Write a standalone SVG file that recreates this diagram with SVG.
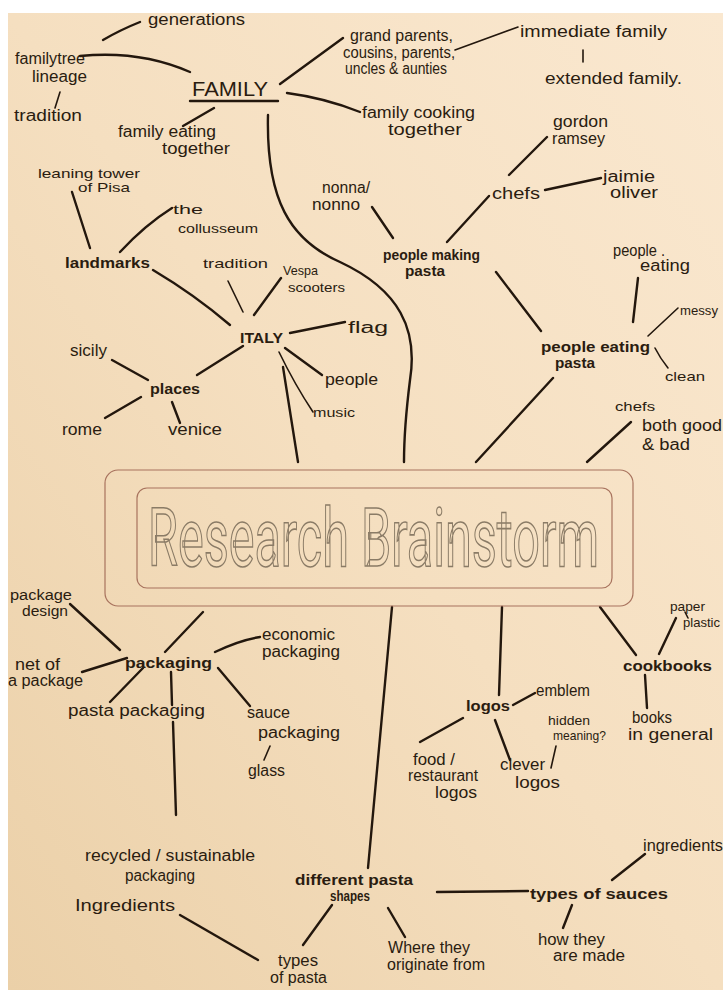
<svg xmlns="http://www.w3.org/2000/svg" width="726" height="990" viewBox="0 0 726 990">
  <defs>
    <linearGradient id="paper" x1="1" y1="0" x2="0" y2="1">
      <stop offset="0" stop-color="#fae8d0"/>
      <stop offset="0.5" stop-color="#f5dfc0"/>
      <stop offset="1" stop-color="#ebd0a8"/>
    </linearGradient>
    <style>
      .ln { fill: none; stroke: #23170d; stroke-width: 2.4; stroke-linecap: round; stroke-linejoin: round; }
      .thin { stroke-width: 1.6; }
      text { font-family: "Liberation Sans", "DejaVu Sans", sans-serif; fill: #2a1c10; font-size: 16px; }
      .s { font-size: 13px; }
      .m { font-size: 14px; }
      .b { font-weight: bold; font-size: 15px; }
      .cap { font-size: 20px; }
      .title { font-family: Roboto, "DejaVu Sans", sans-serif; font-size: 45px; fill: none; stroke: #8a7b66; stroke-width: 1.3; vector-effect: non-scaling-stroke; }
      .frame { fill: none; stroke: #a8735e; stroke-width: 1.2; }
    </style>
  </defs>

  <!-- sheet of paper -->
  <rect width="726" height="990" fill="#ffffff"/>
  <rect x="8" y="13" width="715" height="977" fill="url(#paper)"/>

  <!-- connectors -->
  <g id="connectors">
    <!-- family branch -->
    <path class="ln" d="M103,40 Q120,30 140,22"/>
    <path class="ln" d="M80,56 Q140,50 190,72"/>
    <path class="ln thin" d="M60,92 L55,108"/>
    <path class="ln" d="M190,101 L278,101"/>
    <path class="ln" d="M280,84 L343,38"/>
    <path class="ln thin" d="M455,50 L518,27"/>
    <path class="ln thin" d="M583,50 L583,62"/>
    <path class="ln" d="M287,93 Q325,98 360,112"/>
    <path class="ln" d="M214,108 L183,126"/>
    <path class="ln" d="M268,115 C266,200 290,240 340,262 C400,290 418,330 410,380 C405,420 404,440 404,462"/>
    <!-- people making / eating pasta -->
    <path class="ln" d="M372,207 L393,238"/>
    <path class="ln" d="M447,242 L489,196"/>
    <path class="ln" d="M509,175 L547,137"/>
    <path class="ln" d="M545,190 L601,178"/>
    <path class="ln" d="M496,272 L541,331"/>
    <path class="ln" d="M633,322 L638,278"/>
    <path class="ln thin" d="M648,336 L678,308"/>
    <path class="ln thin" d="M655,348 Q660,358 668,368"/>
    <path class="ln" d="M553,378 L476,462"/>
    <path class="ln" d="M631,422 L587,462"/>
    <!-- italy branch -->
    <path class="ln" d="M72,192 L90,248"/>
    <path class="ln" d="M120,252 Q145,225 172,208"/>
    <path class="ln" d="M153,270 Q195,295 230,325"/>
    <path class="ln thin" d="M228,281 L243,312"/>
    <path class="ln" d="M254,315 L281,278"/>
    <path class="ln" d="M290,333 L345,322"/>
    <path class="ln" d="M285,348 L322,375"/>
    <path class="ln thin" d="M279,352 Q295,385 313,412"/>
    <path class="ln" d="M243,346 L197,375"/>
    <path class="ln" d="M283,367 L298,462"/>
    <path class="ln" d="M112,360 L148,380"/>
    <path class="ln" d="M141,397 L105,418"/>
    <path class="ln" d="M172,402 L180,423"/>
    <!-- packaging branch -->
    <path class="ln" d="M203,612 L165,652"/>
    <path class="ln" d="M70,604 L120,650"/>
    <path class="ln" d="M215,652 Q240,640 260,637"/>
    <path class="ln" d="M82,672 L127,658"/>
    <path class="ln" d="M143,668 L110,702"/>
    <path class="ln" d="M171,672 L172,705"/>
    <path class="ln" d="M218,668 L250,706"/>
    <path class="ln thin" d="M270,746 L264,760"/>
    <path class="ln" d="M173,722 L176,815"/>
    <!-- pasta shapes branch -->
    <path class="ln" d="M392,607 L368,868"/>
    <path class="ln" d="M437,892 L528,891"/>
    <path class="ln" d="M612,880 L645,854"/>
    <path class="ln" d="M572,905 L563,928"/>
    <path class="ln" d="M388,908 L405,937"/>
    <path class="ln" d="M332,905 L303,945"/>
    <path class="ln" d="M180,915 L258,960"/>
    <!-- logos branch -->
    <path class="ln" d="M502,607 L499,695"/>
    <path class="ln" d="M513,705 L535,693"/>
    <path class="ln" d="M463,718 L420,742"/>
    <path class="ln" d="M495,720 L510,760"/>
    <path class="ln thin" d="M556,746 L551,768"/>
    <!-- cookbooks branch -->
    <path class="ln" d="M600,607 L636,655"/>
    <path class="ln" d="M659,654 L676,618"/>
    <path class="ln thin" d="M685,612 L688,618"/>
    <path class="ln" d="M645,675 L647,708"/>
  </g>

  <!-- centre title: tall condensed outline lettering -->
  <g id="research-brainstorm">
    <rect class="frame" x="105" y="470" width="528" height="136" rx="13"/>
    <rect class="frame" x="137" y="488" width="475" height="100" rx="10" stroke="#8d6a56"/>
    <text class="title" transform="translate(148,566) scale(1,1.82)" x="0" y="0" textLength="451" lengthAdjust="spacingAndGlyphs">Research Brainstorm</text>
  </g>

  <!-- family -->
  <g id="family">
    <text class="cap" x="192" y="96" textLength="76" lengthAdjust="spacingAndGlyphs">FAMILY</text>
  </g>
  <g id="generations"><text x="148" y="25" textLength="97" lengthAdjust="spacingAndGlyphs">generations</text></g>
  <g id="family-tree">
    <text x="15" y="64" textLength="70" lengthAdjust="spacingAndGlyphs">familytree</text>
    <text x="32" y="82" textLength="55" lengthAdjust="spacingAndGlyphs">lineage</text>
  </g>
  <g id="tradition-family"><text x="14" y="121" textLength="68" lengthAdjust="spacingAndGlyphs">tradition</text></g>
  <g id="relatives">
    <text x="350" y="41" textLength="103" lengthAdjust="spacingAndGlyphs">grand parents,</text>
    <text x="343" y="58" textLength="112" lengthAdjust="spacingAndGlyphs">cousins, parents,</text>
    <text x="345" y="74" textLength="102" lengthAdjust="spacingAndGlyphs">uncles &amp; aunties</text>
  </g>
  <g id="immediate-family"><text x="520" y="37" textLength="147" lengthAdjust="spacingAndGlyphs">immediate family</text></g>
  <g id="extended-family"><text x="545" y="84" textLength="137" lengthAdjust="spacingAndGlyphs">extended family.</text></g>
  <g id="family-cooking">
    <text x="362" y="118" textLength="113" lengthAdjust="spacingAndGlyphs">family cooking</text>
    <text x="388" y="135" textLength="74" lengthAdjust="spacingAndGlyphs">together</text>
  </g>
  <g id="family-eating">
    <text x="118" y="137" textLength="98" lengthAdjust="spacingAndGlyphs">family eating</text>
    <text x="162" y="154" textLength="68" lengthAdjust="spacingAndGlyphs">together</text>
  </g>

  <!-- people making / eating pasta -->
  <g id="nonna">
    <text x="322" y="193" textLength="48" lengthAdjust="spacingAndGlyphs">nonna/</text>
    <text x="312" y="210" textLength="48" lengthAdjust="spacingAndGlyphs">nonno</text>
  </g>
  <g id="people-making-pasta">
    <text class="b" x="383" y="260" textLength="97" lengthAdjust="spacingAndGlyphs">people making</text>
    <text class="b" x="405" y="276" textLength="40" lengthAdjust="spacingAndGlyphs">pasta</text>
  </g>
  <g id="chefs"><text x="492" y="199" textLength="48" lengthAdjust="spacingAndGlyphs">chefs</text></g>
  <g id="gordon-ramsey">
    <text x="553" y="127" textLength="55" lengthAdjust="spacingAndGlyphs">gordon</text>
    <text x="552" y="144" textLength="53" lengthAdjust="spacingAndGlyphs">ramsey</text>
  </g>
  <g id="jaimie-oliver">
    <text x="603" y="182" textLength="52" lengthAdjust="spacingAndGlyphs">jaimie</text>
    <text x="610" y="198" textLength="48" lengthAdjust="spacingAndGlyphs">oliver</text>
  </g>
  <g id="people-eating-pasta">
    <text class="b" x="541" y="352" textLength="109" lengthAdjust="spacingAndGlyphs">people eating</text>
    <text class="b" x="555" y="368" textLength="40" lengthAdjust="spacingAndGlyphs">pasta</text>
  </g>
  <g id="people-eating">
    <text x="613" y="256" textLength="52" lengthAdjust="spacingAndGlyphs">people .</text>
    <text x="640" y="271" textLength="50" lengthAdjust="spacingAndGlyphs">eating</text>
  </g>
  <g id="messy"><text class="s" x="680" y="315" textLength="38" lengthAdjust="spacingAndGlyphs">messy</text></g>
  <g id="clean"><text class="s" x="665" y="381" textLength="40" lengthAdjust="spacingAndGlyphs">clean</text></g>
  <g id="chefs-good-bad">
    <text class="s" x="615" y="411" textLength="40" lengthAdjust="spacingAndGlyphs">chefs</text>
    <text x="642" y="431" textLength="80" lengthAdjust="spacingAndGlyphs">both good</text>
    <text x="642" y="450" textLength="48" lengthAdjust="spacingAndGlyphs">&amp; bad</text>
  </g>

  <!-- italy -->
  <g id="italy"><text class="b" x="240" y="343" textLength="43" lengthAdjust="spacingAndGlyphs">ITALY</text></g>
  <g id="leaning-tower">
    <text class="s" x="38" y="178" textLength="102" lengthAdjust="spacingAndGlyphs">leaning tower</text>
    <text class="s" x="78" y="192" textLength="52" lengthAdjust="spacingAndGlyphs">of Pisa</text>
  </g>
  <g id="collusseum">
    <text class="s" x="173" y="214" textLength="30" lengthAdjust="spacingAndGlyphs">the</text>
    <text class="s" x="178" y="233" textLength="80" lengthAdjust="spacingAndGlyphs">collusseum</text>
  </g>
  <g id="landmarks"><text class="b" x="65" y="268" textLength="85" lengthAdjust="spacingAndGlyphs">landmarks</text></g>
  <g id="tradition-italy"><text class="s" x="203" y="268" textLength="65" lengthAdjust="spacingAndGlyphs">tradition</text></g>
  <g id="vespa">
    <text class="s" x="283" y="275" textLength="35" lengthAdjust="spacingAndGlyphs">Vespa</text>
    <text class="s" x="288" y="292" textLength="57" lengthAdjust="spacingAndGlyphs">scooters</text>
  </g>
  <g id="flag"><text x="348" y="333" textLength="40" lengthAdjust="spacingAndGlyphs">flag</text></g>
  <g id="people"><text x="325" y="385" textLength="53" lengthAdjust="spacingAndGlyphs">people</text></g>
  <g id="music"><text class="s" x="313" y="417" textLength="42" lengthAdjust="spacingAndGlyphs">music</text></g>
  <g id="places"><text class="b" x="150" y="394" textLength="50" lengthAdjust="spacingAndGlyphs">places</text></g>
  <g id="sicily"><text x="70" y="356" textLength="37" lengthAdjust="spacingAndGlyphs">sicily</text></g>
  <g id="rome"><text x="62" y="435" textLength="40" lengthAdjust="spacingAndGlyphs">rome</text></g>
  <g id="venice"><text x="168" y="435" textLength="54" lengthAdjust="spacingAndGlyphs">venice</text></g>

  <!-- packaging -->
  <g id="packaging"><text class="b" x="125" y="668" textLength="87" lengthAdjust="spacingAndGlyphs">packaging</text></g>
  <g id="package-design">
    <text class="m" x="10" y="600" textLength="62" lengthAdjust="spacingAndGlyphs">package</text>
    <text class="m" x="22" y="616" textLength="46" lengthAdjust="spacingAndGlyphs">design</text>
  </g>
  <g id="economic-packaging">
    <text x="262" y="640" textLength="73" lengthAdjust="spacingAndGlyphs">economic</text>
    <text x="262" y="657" textLength="78" lengthAdjust="spacingAndGlyphs">packaging</text>
  </g>
  <g id="net-of-package">
    <text x="15" y="670" textLength="45" lengthAdjust="spacingAndGlyphs">net of</text>
    <text x="8" y="686" textLength="75" lengthAdjust="spacingAndGlyphs">a package</text>
  </g>
  <g id="pasta-packaging"><text x="68" y="716" textLength="137" lengthAdjust="spacingAndGlyphs">pasta packaging</text></g>
  <g id="sauce-packaging">
    <text x="247" y="718" textLength="43" lengthAdjust="spacingAndGlyphs">sauce</text>
    <text x="258" y="738" textLength="82" lengthAdjust="spacingAndGlyphs">packaging</text>
  </g>
  <g id="glass"><text x="248" y="776" textLength="37" lengthAdjust="spacingAndGlyphs">glass</text></g>
  <g id="recycled-packaging">
    <text x="85" y="861" textLength="170" lengthAdjust="spacingAndGlyphs">recycled / sustainable</text>
    <text x="125" y="881" textLength="70" lengthAdjust="spacingAndGlyphs">packaging</text>
  </g>

  <!-- logos -->
  <g id="logos"><text class="b" x="466" y="711" textLength="44" lengthAdjust="spacingAndGlyphs">logos</text></g>
  <g id="emblem"><text x="536" y="696" textLength="54" lengthAdjust="spacingAndGlyphs">emblem</text></g>
  <g id="food-logos">
    <text x="413" y="765" textLength="42" lengthAdjust="spacingAndGlyphs">food /</text>
    <text x="408" y="781" textLength="70" lengthAdjust="spacingAndGlyphs">restaurant</text>
    <text x="435" y="798" textLength="42" lengthAdjust="spacingAndGlyphs">logos</text>
  </g>
  <g id="clever-logos">
    <text x="500" y="770" textLength="45" lengthAdjust="spacingAndGlyphs">clever</text>
    <text x="515" y="788" textLength="45" lengthAdjust="spacingAndGlyphs">logos</text>
  </g>
  <g id="hidden-meaning">
    <text class="s" x="548" y="725" textLength="42" lengthAdjust="spacingAndGlyphs">hidden</text>
    <text class="s" x="553" y="740" textLength="53" lengthAdjust="spacingAndGlyphs">meaning?</text>
  </g>

  <!-- cookbooks -->
  <g id="cookbooks"><text class="b" x="623" y="671" textLength="89" lengthAdjust="spacingAndGlyphs">cookbooks</text></g>
  <g id="paper-plastic">
    <text class="s" x="670" y="611" textLength="35" lengthAdjust="spacingAndGlyphs">paper</text>
    <text class="s" x="683" y="627" textLength="37" lengthAdjust="spacingAndGlyphs">plastic</text>
  </g>
  <g id="books-general">
    <text x="632" y="723" textLength="40" lengthAdjust="spacingAndGlyphs">books</text>
    <text x="628" y="740" textLength="85" lengthAdjust="spacingAndGlyphs">in general</text>
  </g>

  <!-- pasta shapes and sauces -->
  <g id="different-pasta-shapes">
    <text class="b" x="295" y="885" textLength="118" lengthAdjust="spacingAndGlyphs">different pasta</text>
    <text class="b" x="330" y="901" textLength="40" lengthAdjust="spacingAndGlyphs">shapes</text>
  </g>
  <g id="types-of-sauces"><text class="b" x="530" y="899" textLength="138" lengthAdjust="spacingAndGlyphs">types of sauces</text></g>
  <g id="ingredients-sauce"><text x="643" y="851" textLength="80" lengthAdjust="spacingAndGlyphs">ingredients</text></g>
  <g id="how-made">
    <text x="538" y="945" textLength="67" lengthAdjust="spacingAndGlyphs">how they</text>
    <text x="553" y="961" textLength="72" lengthAdjust="spacingAndGlyphs">are made</text>
  </g>
  <g id="where-from">
    <text x="388" y="953" textLength="82" lengthAdjust="spacingAndGlyphs">Where they</text>
    <text x="387" y="970" textLength="98" lengthAdjust="spacingAndGlyphs">originate from</text>
  </g>
  <g id="types-of-pasta">
    <text x="278" y="966" textLength="40" lengthAdjust="spacingAndGlyphs">types</text>
    <text x="270" y="983" textLength="57" lengthAdjust="spacingAndGlyphs">of pasta</text>
  </g>
  <g id="ingredients-pasta"><text x="75" y="911" textLength="100" lengthAdjust="spacingAndGlyphs">Ingredients</text></g>
</svg>
